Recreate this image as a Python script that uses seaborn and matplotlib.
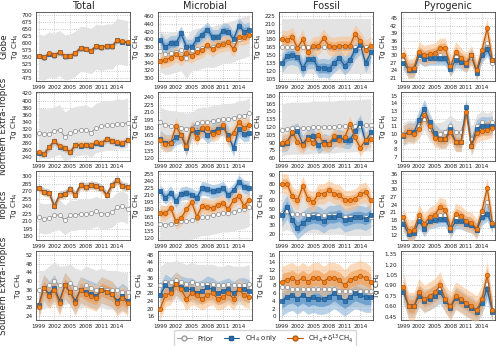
import numpy as np
import pandas as pd
import seaborn as sns
import matplotlib.pyplot as plt
from matplotlib.ticker import MultipleLocator, FormatStrFormatter
from matplotlib.lines import Line2D

years = list(range(1999, 2017))
regions = ["Globe", "Northern Extra-Tropics", "Tropics", "Southern Extra-Tropics"]
sectors = ["Total", "Microbial", "Fossil", "Pyrogenic"]
series_names = ["Prior", "CH$_4$ only", "CH$_4$+δ$^{13}$CH$_4$"]

# Globe
glb_tot_pri = [553, 548, 560, 556, 565, 550, 553, 563, 580, 578, 572, 588, 583, 588, 588, 608, 603, 600]
glb_tot_ch4 = [555, 550, 563, 558, 568, 553, 555, 565, 583, 580, 573, 590, 585, 590, 590, 610, 605, 602]
glb_tot_iso = [556, 550, 564, 558, 569, 554, 556, 566, 584, 580, 574, 591, 586, 590, 590, 611, 606, 603]
glb_mic_pri = [370, 362, 365, 368, 372, 352, 372, 375, 378, 382, 380, 385, 390, 392, 395, 402, 405, 410]
glb_mic_ch4 = [398, 380, 390, 390, 415, 380, 380, 400, 412, 425, 405, 405, 422, 420, 400, 435, 420, 425]
glb_mic_iso = [345, 348, 352, 362, 352, 365, 358, 368, 372, 385, 375, 385, 388, 392, 375, 405, 405, 410]
glb_fos_pri = [166, 166, 166, 166, 166, 166, 166, 166, 166, 166, 166, 166, 166, 166, 166, 166, 166, 166]
glb_fos_ch4 = [134, 148, 150, 147, 125, 142, 142, 125, 126, 124, 135, 144, 130, 140, 160, 170, 135, 155]
glb_fos_iso = [180, 178, 185, 163, 180, 155, 168, 168, 182, 168, 166, 168, 168, 168, 190, 177, 160, 168]
glb_pyr_pri = [28, 25, 25, 29.5, 29, 29.5, 30, 30, 29, 25, 29.5, 28, 27, 29.5, 24, 30.5, 35, 27]
glb_pyr_ch4 = [27, 24, 24, 30, 28.5, 29, 29, 29, 29, 24.5, 28, 27.5, 26, 30, 23, 30, 32.5, 28]
glb_pyr_iso = [30, 24.5, 25, 31.5, 30, 30.5, 31, 33, 33, 25.5, 31.5, 29, 27, 30, 24, 32, 41, 28]

# Northern Extra-Tropics
net_tot_pri = [310, 307, 307, 313, 318, 298, 308, 313, 316, 318, 310, 323, 327, 330, 330, 335, 333, 338]
net_tot_ch4 = [253, 249, 268, 285, 270, 265, 254, 275, 273, 275, 273, 281, 279, 291, 285, 281, 279, 289]
net_tot_iso = [254, 250, 269, 287, 271, 266, 255, 276, 275, 276, 274, 282, 281, 292, 287, 282, 280, 290]
net_mic_pri = [190, 185, 183, 183, 180, 178, 180, 188, 190, 190, 193, 195, 197, 197, 198, 203, 203, 208]
net_mic_ch4 = [158, 150, 150, 162, 165, 140, 175, 172, 177, 165, 172, 178, 182, 165, 140, 178, 168, 170]
net_mic_iso = [155, 148, 150, 183, 165, 145, 178, 160, 180, 180, 168, 172, 185, 158, 170, 190, 180, 185]
net_fos_pri = [115, 117, 118, 118, 118, 118, 120, 120, 120, 120, 120, 122, 122, 122, 123, 123, 124, 124]
net_fos_ch4 = [88, 90, 108, 112, 88, 100, 102, 85, 92, 88, 98, 100, 95, 95, 112, 128, 92, 110]
net_fos_iso = [90, 92, 110, 92, 85, 98, 90, 105, 88, 88, 102, 95, 100, 125, 100, 80, 95, 98]
net_pyr_pri = [10, 10.3, 10.2, 11, 12, 10.6, 10, 10, 10.3, 11, 10.3, 10.2, 12.5, 9.3, 11, 11.5, 11.2, 11.5]
net_pyr_ch4 = [9.8, 10.3, 10.2, 11.8, 13.3, 11.5, 10.1, 9.4, 9.4, 10.6, 9, 8.9, 13.5, 8.5, 10.7, 11.1, 11, 11.1]
net_pyr_iso = [9.9, 10.2, 10, 10.7, 12.5, 11, 9.5, 9.3, 9.3, 10.2, 8.9, 8.9, 12.8, 8.4, 10.1, 10.4, 10.5, 10.8]

# Tropics
tro_tot_pri = [218, 215, 216, 222, 223, 213, 222, 222, 225, 224, 226, 230, 225, 225, 228, 238, 240, 235]
tro_tot_ch4 = [277, 269, 267, 241, 263, 265, 275, 263, 283, 279, 283, 281, 277, 263, 283, 293, 281, 279]
tro_tot_iso = [276, 268, 266, 240, 262, 264, 274, 262, 282, 278, 282, 280, 276, 262, 282, 292, 280, 278]
tro_mic_pri = [150, 148, 150, 152, 155, 155, 158, 162, 165, 165, 168, 170, 173, 173, 175, 178, 180, 185]
tro_mic_ch4 = [218, 205, 215, 198, 213, 215, 210, 205, 225, 222, 218, 220, 225, 210, 220, 238, 228, 225]
tro_mic_iso = [173, 172, 183, 155, 162, 180, 195, 165, 188, 185, 183, 190, 193, 180, 200, 208, 188, 200]
tro_fos_pri = [45, 47, 44, 44, 44, 43, 43, 42, 42, 42, 42, 42, 40, 40, 40, 40, 40, 40]
tro_fos_ch4 = [42, 52, 37, 27, 33, 38, 40, 39, 35, 40, 40, 42, 36, 38, 40, 40, 38, 42]
tro_fos_iso = [80, 80, 65, 60, 77, 62, 58, 68, 68, 72, 68, 67, 60, 60, 62, 68, 70, 60]
tro_pyr_pri = [17, 13, 13.5, 18.5, 15, 18, 19, 20, 20, 14.5, 19, 18.5, 17, 16.5, 14, 20, 25, 16]
tro_pyr_ch4 = [16.5, 12.5, 13, 17.5, 14.5, 17.5, 18, 18.5, 18.5, 14, 17.5, 17.5, 16.5, 16, 14, 19, 20.5, 16]
tro_pyr_iso = [19, 13.5, 14, 20, 16.5, 19, 20, 23, 22, 15, 20.5, 19.5, 17.5, 17, 14.5, 21.5, 30.5, 17]

# Southern Extra-Tropics
set_tot_pri = [36, 36, 38, 40, 38, 38, 39, 37, 36, 38, 37, 36, 37, 36, 36, 36, 35, 35]
set_tot_ch4 = [29, 37, 34, 37, 31, 38, 35, 31, 36, 35, 34, 33, 36, 35, 34, 31, 33, 31]
set_tot_iso = [28, 37, 33, 36, 30, 38, 35, 30, 36, 34, 33, 32, 36, 35, 34, 30, 32, 30]
set_mic_pri = [32, 34, 34, 35, 34, 33, 34, 33, 33, 33, 33, 32, 32, 33, 32, 32, 32, 33]
set_mic_ch4 = [27, 32, 30, 33, 31, 30, 30, 28, 29, 31, 30, 28, 29, 30, 28, 30, 30, 29]
set_mic_iso = [20, 27, 28, 33, 30, 25, 28, 27, 25, 27, 28, 25, 26, 28, 25, 30, 27, 26]
set_fos_pri = [7.5, 7.5, 7, 7, 7, 7, 7, 7, 7, 7, 7, 6.5, 6.5, 6.5, 6.5, 6.5, 6.5, 6.5]
set_fos_ch4 = [4, 5, 5.5, 4.5, 5.5, 4.5, 5, 4.5, 4.5, 5, 6, 5, 4, 5, 6, 5.5, 5, 5]
set_fos_iso = [9, 9.5, 10, 9, 10, 9, 10, 10, 9, 10, 10, 9.5, 8, 9.5, 10, 10.5, 10, 9]
set_pyr_pri = [0.82, 0.6, 0.6, 0.78, 0.69, 0.72, 0.78, 0.85, 0.69, 0.59, 0.74, 0.69, 0.63, 0.59, 0.53, 0.68, 0.92, 0.53]
set_pyr_ch4 = [0.8, 0.6, 0.6, 0.75, 0.68, 0.7, 0.75, 0.8, 0.68, 0.58, 0.72, 0.68, 0.62, 0.58, 0.52, 0.65, 0.85, 0.52]
set_pyr_iso = [0.88, 0.6, 0.6, 0.8, 0.7, 0.75, 0.8, 0.9, 0.7, 0.6, 0.75, 0.7, 0.65, 0.6, 0.55, 0.7, 1.05, 0.55]

# 1-sigma uncertainty per panel (rows = regions, cols = sectors)
sig_pri = [[80, 53, 52, 3], [70, 30, 50, 1.5], [30, 40, 22, 2.5], [9, 10, 4, 0.12]]
sig_ch4 = [[5, 10, 9, 1.5], [5, 8, 8, 0.6], [4, 7, 7, 1.5], [3, 3, 2, 0.08]]
sig_iso = [[5, 10, 9, 2], [5, 8, 8, 0.6], [4, 8, 6, 2], [3, 3, 2, 0.1]]

# y axis limits and tick step per panel
ylims = [[(465, 710), (292, 470), (100, 232), (19.5, 47.5)],
         [(230, 425), (115, 250), (55, 188), (6.5, 15.5)],
         [(172, 310), (115, 260), (12, 95), (10, 37)],
         [(22, 54), (14, 50), (-1, 17), (0.4, 1.4)]]
ysteps = [[25, 20, 15, 3], [20, 15, 15, 1], [15, 15, 10, 3], [4, 4, 2, 0.15]]

panels = [
    [(glb_tot_pri, glb_tot_ch4, glb_tot_iso), (glb_mic_pri, glb_mic_ch4, glb_mic_iso),
     (glb_fos_pri, glb_fos_ch4, glb_fos_iso), (glb_pyr_pri, glb_pyr_ch4, glb_pyr_iso)],
    [(net_tot_pri, net_tot_ch4, net_tot_iso), (net_mic_pri, net_mic_ch4, net_mic_iso),
     (net_fos_pri, net_fos_ch4, net_fos_iso), (net_pyr_pri, net_pyr_ch4, net_pyr_iso)],
    [(tro_tot_pri, tro_tot_ch4, tro_tot_iso), (tro_mic_pri, tro_mic_ch4, tro_mic_iso),
     (tro_fos_pri, tro_fos_ch4, tro_fos_iso), (tro_pyr_pri, tro_pyr_ch4, tro_pyr_iso)],
    [(set_tot_pri, set_tot_ch4, set_tot_iso), (set_mic_pri, set_mic_ch4, set_mic_iso),
     (set_fos_pri, set_fos_ch4, set_fos_iso), (set_pyr_pri, set_pyr_ch4, set_pyr_iso)],
]

sns.set_theme(style="whitegrid", rc={"grid.linestyle": ":", "grid.color": "#bbbbbb",
                                     "grid.linewidth": 0.6, "axes.edgecolor": "#444444",
                                     "axes.linewidth": 0.6})
plt.rcParams['font.family'] = ['DejaVu Sans']

blue = "#2f72b0"
orange = "#f57f17"
grey = "#9a9a9a"

fig, axes = plt.subplots(4, 4, figsize=(5, 3.46), dpi=100)
fig.subplots_adjust(left=0.072, right=0.99, top=0.965, bottom=0.075, wspace=0.29, hspace=0.15)

for i in range(4):
    for j in range(4):
        ax = axes[i, j]
        pri, ch4, iso = panels[i][j]
        df = pd.DataFrame({"year": years, "pri": pri, "ch4": ch4, "iso": iso})
        p, c, o = np.array(pri), np.array(ch4), np.array(iso)
        sp, sc, so = sig_pri[i][j], sig_ch4[i][j], sig_iso[i][j]
        ax.fill_between(years, p - sp, p + sp, color="#e3e3e3", lw=0, zorder=1)
        ax.fill_between(years, c - 2 * sc, c + 2 * sc, color="#8db5da", alpha=0.6, lw=0, zorder=2)
        ax.fill_between(years, c - sc, c + sc, color="#4a8bc4", alpha=0.6, lw=0, zorder=2)
        ax.fill_between(years, o - 2 * so, o + 2 * so, color="#f9c08e", alpha=0.6, lw=0, zorder=3)
        ax.fill_between(years, o - so, o + so, color="#f59c4e", alpha=0.6, lw=0, zorder=3)
        sns.lineplot(data=df, x="year", y="pri", ax=ax, color=grey, lw=0.8, marker="o",
                     markersize=3, markerfacecolor="white", markeredgecolor=grey,
                     markeredgewidth=0.6, zorder=4)
        sns.lineplot(data=df, x="year", y="ch4", ax=ax, color="#1f5a8f", lw=0.8, marker="s",
                     markersize=3.2, markerfacecolor=blue, markeredgecolor="#1f5a8f",
                     markeredgewidth=0.5, zorder=5)
        sns.lineplot(data=df, x="year", y="iso", ax=ax, color="#b35a10", lw=0.8, marker="o",
                     markersize=3.2, markerfacecolor=orange, markeredgecolor="#b35a10",
                     markeredgewidth=0.5, zorder=6)
        ax.set_xlim(1998.5, 2016.5)
        ax.set_xticks([1999, 2002, 2005, 2008, 2011, 2014])
        ax.set_ylim(*ylims[i][j])
        ax.yaxis.set_major_locator(MultipleLocator(ysteps[i][j]))
        if ysteps[i][j] < 1:
            ax.yaxis.set_major_formatter(FormatStrFormatter("%.2f"))
        else:
            ax.yaxis.set_major_formatter(FormatStrFormatter("%d"))
        ax.tick_params(labelsize=4.1, pad=1, length=1.5, width=0.5, colors="#222222")
        ax.set_xlabel("")
        ax.set_ylabel("Tg CH$_4$", fontsize=5.2, labelpad=1)
        if i == 0:
            ax.set_title(sectors[j], fontsize=7, pad=2)
        if j == 0:
            ax.text(-0.34, 0.5, regions[i], rotation=90, transform=ax.transAxes,
                    ha="center", va="center", fontsize=6.3)

handles = [
    Line2D([], [], color=grey, lw=0.8, marker="o", markersize=3.5, markerfacecolor="white",
           markeredgecolor=grey),
    Line2D([], [], color="#1f5a8f", lw=0.8, marker="s", markersize=3.5, markerfacecolor=blue,
           markeredgecolor="#1f5a8f"),
    Line2D([], [], color="#b35a10", lw=0.8, marker="o", markersize=3.5, markerfacecolor=orange,
           markeredgecolor="#b35a10"),
]
fig.legend(handles, series_names, loc="lower center", ncol=3, fontsize=5,
           bbox_to_anchor=(0.53, -0.012), frameon=True, handlelength=2.2, columnspacing=1.5,
           borderpad=0.3, edgecolor="#cccccc")

plt.savefig("out.png", dpi=100)
plt.close()
